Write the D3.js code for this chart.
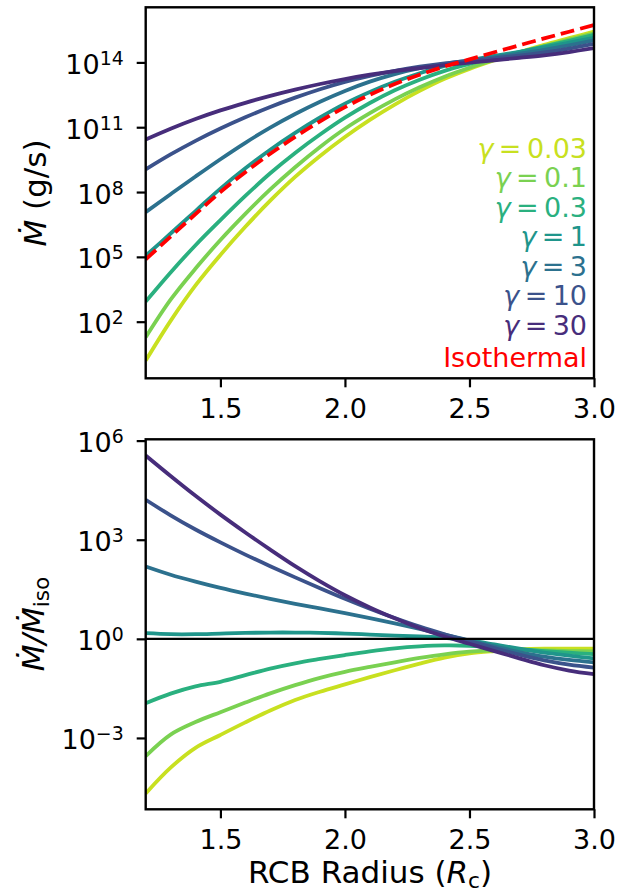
<!DOCTYPE html>
<html>
<head>
<meta charset="utf-8">
<script src="https://cdn.jsdelivr.net/npm/d3@7"></script>
<style>
  body { margin: 0; background: #fff; }
  svg text { font-family: "DejaVu Sans", sans-serif; }
</style>
</head>
<body>
<div id="chart"></div>
<script>
// RCB radius (R_c) sample points
var radius = [1.2, 1.3, 1.4, 1.5, 1.6, 1.7, 1.8, 1.9, 2.0, 2.1, 2.2, 2.3, 2.4, 2.5, 2.6, 2.7, 2.8, 2.9, 3.0];

var gammaLabels = ["0.03", "0.1", "0.3", "1", "3", "10", "30"];

// top panel: log10 of Mdot (g/s)
var logMdotIso = [4.88, 5.94, 6.98, 8.00, 8.92, 9.77, 10.55, 11.27, 11.93, 12.50, 13.00, 13.43, 13.81, 14.14, 14.47, 14.79, 15.11, 15.42, 15.73];
var logMdotG003 = [0.20, 2.04, 3.68, 5.09, 6.39, 7.60, 8.70, 9.67, 10.55, 11.34, 12.05, 12.68, 13.24, 13.70, 14.10, 14.47, 14.81, 15.12, 15.43];
var logMdotG01 = [1.28, 3.02, 4.46, 5.78, 6.99, 8.12, 9.15, 10.09, 10.93, 11.65, 12.29, 12.85, 13.34, 13.75, 14.12, 14.45, 14.76, 15.05, 15.35];
var logMdotG03 = [2.93, 4.28, 5.54, 6.70, 7.82, 8.87, 9.81, 10.66, 11.44, 12.12, 12.71, 13.20, 13.61, 13.93, 14.22, 14.48, 14.74, 15.00, 15.27];
var logMdotG1 = [5.05, 6.08, 7.12, 8.16, 9.10, 9.96, 10.74, 11.45, 12.09, 12.63, 13.10, 13.50, 13.84, 14.09, 14.30, 14.49, 14.69, 14.91, 15.14];
var logMdotG3 = [7.07, 7.90, 8.72, 9.52, 10.28, 10.98, 11.61, 12.18, 12.68, 13.11, 13.46, 13.73, 13.93, 14.09, 14.24, 14.40, 14.58, 14.79, 15.02];
var logMdotG10 = [9.05, 9.74, 10.37, 10.94, 11.46, 11.94, 12.37, 12.76, 13.10, 13.38, 13.61, 13.80, 13.95, 14.07, 14.19, 14.31, 14.46, 14.64, 14.86];
var logMdotG30 = [10.43, 10.93, 11.38, 11.78, 12.13, 12.45, 12.74, 13.00, 13.23, 13.43, 13.60, 13.74, 13.87, 13.99, 14.10, 14.21, 14.33, 14.48, 14.66];

// bottom panel: log10 of Mdot / Mdot_iso
var logRatioG003 = [-4.68, -3.90, -3.30, -2.91, -2.53, -2.17, -1.85, -1.60, -1.38, -1.16, -0.95, -0.75, -0.57, -0.44, -0.37, -0.32, -0.30, -0.30, -0.30];
var logRatioG01 = [-3.55, -2.90, -2.52, -2.22, -1.93, -1.65, -1.40, -1.18, -1.00, -0.85, -0.71, -0.58, -0.47, -0.39, -0.35, -0.34, -0.35, -0.37, -0.38];
var logRatioG03 = [-1.95, -1.66, -1.44, -1.30, -1.10, -0.90, -0.74, -0.61, -0.49, -0.38, -0.29, -0.23, -0.20, -0.21, -0.25, -0.31, -0.37, -0.42, -0.46];
var logRatioG1 = [0.17, 0.14, 0.14, 0.16, 0.18, 0.19, 0.19, 0.18, 0.16, 0.13, 0.10, 0.07, 0.03, -0.05, -0.17, -0.30, -0.42, -0.51, -0.59];
var logRatioG3 = [2.19, 1.94, 1.73, 1.54, 1.37, 1.21, 1.06, 0.92, 0.78, 0.63, 0.47, 0.30, 0.13, -0.05, -0.23, -0.40, -0.54, -0.64, -0.71];
var logRatioG10 = [4.21, 3.74, 3.31, 2.92, 2.55, 2.20, 1.86, 1.53, 1.21, 0.91, 0.63, 0.37, 0.14, -0.07, -0.28, -0.48, -0.65, -0.78, -0.87];
var logRatioG30 = [5.55, 4.93, 4.33, 3.76, 3.22, 2.70, 2.20, 1.74, 1.32, 0.95, 0.62, 0.32, 0.07, -0.15, -0.37, -0.59, -0.80, -0.96, -1.07];

var xTicks = [1.5, 2.0, 2.5, 3.0];
var topTickExp = [2, 5, 8, 11, 14];
var bottomTickExp = [-3, 0, 3, 6];

var topSeries = [logMdotG003, logMdotG01, logMdotG03, logMdotG1, logMdotG3, logMdotG10, logMdotG30];
var bottomSeries = [logRatioG003, logRatioG01, logRatioG03, logRatioG1, logRatioG3, logRatioG10, logRatioG30];
var colors = ["#c8e020", "#7ad151", "#2ab07f", "#1f958b", "#2c718e", "#3b528b", "#472d7b"];

var W = 626, H = 894;
var left = 145.7, right = 594;
var tickFont = 27, labelFont = 31;
var lw = 3.8;

var svg = d3.select("#chart").append("svg")
    .attr("width", W).attr("height", H);
svg.append("rect").attr("width", W).attr("height", H).attr("fill", "#fff");

var xScale = d3.scaleLinear().domain([1.2, 3.0]).range([left, right]);

function toPairs(vals) {
  return vals.map(function(v, i) { return [radius[i], v]; });
}

function drawPanel(top, bottom, domainExp, tickExp, id) {
  var yScale = d3.scaleLog()
      .domain([Math.pow(10, domainExp[0]), Math.pow(10, domainExp[1])])
      .range([bottom, top]);

  svg.append("clipPath").attr("id", id)
    .append("rect")
      .attr("x", left).attr("y", top)
      .attr("width", right - left).attr("height", bottom - top);

  var g = svg.append("g");
  var plot = g.append("g").attr("clip-path", "url(#" + id + ")");

  // x axis
  var xAxis = d3.axisBottom(xScale)
      .tickValues(xTicks)
      .tickFormat(d3.format(".1f"))
      .tickSize(9).tickSizeOuter(0).tickPadding(12);
  var gx = g.append("g")
      .attr("transform", "translate(0," + bottom + ")")
      .call(xAxis);
  gx.select(".domain").remove();
  gx.selectAll(".tick line").attr("stroke", "#000").attr("stroke-width", 2.2);
  gx.selectAll(".tick text")
      .attr("font-size", tickFont).attr("fill", "#000")
      .attr("font-family", "DejaVu Sans");

  // y axis, labels as 10^n
  var yAxis = d3.axisLeft(yScale)
      .tickValues(tickExp.map(function(e) { return Math.pow(10, e); }))
      .tickFormat("")
      .tickSize(9).tickSizeOuter(0);
  var gy = g.append("g")
      .attr("transform", "translate(" + left + ",0)")
      .call(yAxis);
  gy.select(".domain").remove();
  gy.selectAll(".tick line").attr("stroke", "#000").attr("stroke-width", 2.2);
  gy.selectAll(".tick").each(function(d) {
    var e = Math.round(Math.log10(d));
    var t = d3.select(this).select("text")
        .attr("x", -22).attr("dy", null).attr("y", 11)
        .attr("text-anchor", "end")
        .attr("font-size", tickFont).attr("fill", "#000")
        .attr("font-family", "DejaVu Sans");
    t.append("tspan").text("10");
    t.append("tspan").attr("dy", -9).attr("font-size", tickFont * 0.7)
        .text(String(e).replace("-", "\u2212"));
  });

  return { g: g, plot: plot, y: yScale };
}

var topPanel = drawPanel(7.3, 378.3, [-0.62, 16.55], topTickExp, "clipTop");
var bottomPanel = drawPanel(439.3, 809.3, [-5.16, 6.04], bottomTickExp, "clipBottom");

function lineFor(yScale) {
  return d3.line()
      .x(function(d) { return xScale(d[0]); })
      .y(function(d) { return yScale(Math.pow(10, d[1])); })
      .curve(d3.curveCatmullRom.alpha(0.5));
}

// top panel curves
var topLine = lineFor(topPanel.y);
topSeries.forEach(function(s, i) {
  topPanel.plot.append("path")
      .datum(toPairs(s))
      .attr("fill", "none")
      .attr("stroke", colors[i])
      .attr("stroke-width", lw)
      .attr("d", topLine);
});
topPanel.plot.append("path")
    .datum(toPairs(logMdotIso))
    .attr("fill", "none")
    .attr("stroke", "#ff0000")
    .attr("stroke-width", lw)
    .attr("stroke-dasharray", "14,6")
    .attr("d", topLine);

// bottom panel curves
var bottomLine = lineFor(bottomPanel.y);
bottomSeries.forEach(function(s, i) {
  bottomPanel.plot.append("path")
      .datum(toPairs(s))
      .attr("fill", "none")
      .attr("stroke", colors[i])
      .attr("stroke-width", lw)
      .attr("d", bottomLine);
});
bottomPanel.plot.append("line")
    .attr("x1", left).attr("x2", right)
    .attr("y1", bottomPanel.y(1)).attr("y2", bottomPanel.y(1))
    .attr("stroke", "#000").attr("stroke-width", 2.4);

// frames
[[7.3, 378.3], [439.3, 809.3]].forEach(function(b) {
  svg.append("rect")
      .attr("x", left).attr("y", b[0])
      .attr("width", right - left).attr("height", b[1] - b[0])
      .attr("fill", "none").attr("stroke", "#000").attr("stroke-width", 2.4);
});

// legend (coloured text, right aligned)
var legendY = [158, 187, 216.5, 246, 275.5, 305, 334.5];
gammaLabels.forEach(function(lab, i) {
  var t = svg.append("text")
      .attr("x", 587).attr("y", legendY[i])
      .attr("text-anchor", "end")
      .attr("font-size", tickFont)
      .attr("fill", colors[i]);
  t.append("tspan").attr("font-style", "italic").text("\u03b3");
  t.append("tspan").text("\u2009=\u2009" + lab);
});
svg.append("text")
    .attr("x", 587).attr("y", 367)
    .attr("text-anchor", "end")
    .attr("font-size", tickFont)
    .attr("fill", "#ff0000")
    .text("Isothermal");

// axis labels
var yl1 = svg.append("text")
    .attr("transform", "translate(46,193) rotate(-90)")
    .attr("text-anchor", "middle")
    .attr("font-size", labelFont);
yl1.append("tspan").attr("font-style", "italic").text("\u1e40");
yl1.append("tspan").text(" (g/s)");

var yl2 = svg.append("text")
    .attr("transform", "translate(44,624) rotate(-90)")
    .attr("text-anchor", "middle")
    .attr("font-size", labelFont);
yl2.append("tspan").attr("font-style", "italic").text("\u1e40/\u1e40");
yl2.append("tspan").attr("font-size", labelFont * 0.7).attr("dy", 5).text("iso");

var xl = svg.append("text")
    .attr("x", 370).attr("y", 883)
    .attr("text-anchor", "middle")
    .attr("font-size", labelFont);
xl.append("tspan").text("RCB Radius (");
xl.append("tspan").attr("font-style", "italic").text("R");
xl.append("tspan").attr("font-size", labelFont * 0.7).attr("dy", 5).text("c");
xl.append("tspan").attr("dy", -5).text(")");
</script>
</body>
</html>
